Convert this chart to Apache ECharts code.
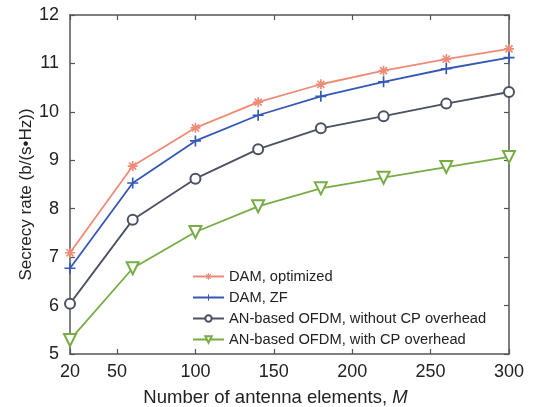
<!DOCTYPE html>
<html>
<head>
<meta charset="utf-8">
<title>Secrecy rate</title>
<script src="https://cdn.jsdelivr.net/npm/echarts@6/dist/echarts.min.js"></script>
<style>
  html, body { margin: 0; padding: 0; background: #fff; }
  #main_chart { width: 538px; height: 407px; }
</style>
</head>
<body>
<div id="main_chart"></div>
<script>
// 数据
var antennaNum = [20, 60, 100, 140, 180, 220, 260, 300];
var xTicks = [20, 50, 100, 150, 200, 250, 300];
var damOpt = [7.09, 8.88, 9.67, 10.20, 10.57, 10.85, 11.09, 11.30];
var damZF = [6.77, 8.53, 9.40, 9.93, 10.32, 10.62, 10.89, 11.12];
var anNoCP = [6.04, 7.77, 8.62, 9.23, 9.66, 9.91, 10.17, 10.41];
var anCP = [5.29, 6.77, 7.52, 8.05, 8.42, 8.64, 8.86, 9.07];
var names = ['DAM, optimized', 'DAM, ZF', 'AN-based OFDM, without CP overhead', 'AN-based OFDM, with CP overhead'];

// 星号和加号标记
var starPath = 'path://M-6,-1L6,-1L6,1L-6,1Z M1,-6L1,6L-1,6L-1,-6Z ' +
    'M-3.54,-4.95L4.95,3.54L3.54,4.95L-4.95,-3.54Z M4.95,-3.54L-3.54,4.95L-4.95,3.54L3.54,-4.95Z';
var plusPath = 'path://M-6,-0.9L6,-0.9L6,0.9L-6,0.9Z M0.9,-6L0.9,6L-0.9,6L-0.9,-6Z';

function pairs(arr) {
    return antennaNum.map(function (m, i) { return [m, arr[i]]; });
}

var axisColor = '#555';
var font = 'Liberation Sans, Arial, Helvetica, sans-serif';

const myChart = echarts.init(document.getElementById('main_chart'));

var option = {
    animation: false,
    textStyle: { fontFamily: font },
    grid: { left: 70, right: 29, top: 15, bottom: 53, outerBoundsMode: 'none', containLabel: false },
    legend: {
        left: 187,
        top: 264,
        orient: 'vertical',
        itemWidth: 31,
        itemHeight: 8,
        itemGap: 6,
        textStyle: { fontFamily: font, fontSize: 14.7, color: '#222' },
        data: names
    },
    xAxis: [{
        type: 'value',
        min: 20,
        max: 300,
        name: 'Number of antenna elements, {i|M}',
        nameLocation: 'middle',
        nameGap: 34,
        nameMoveOverlap: false,
        nameTextStyle: {
            fontSize: 18.5, color: '#222', padding: [0, 28, 0, 0],
            rich: { i: { fontSize: 18.5, fontStyle: 'italic', color: '#222' } }
        },
        axisLine: { lineStyle: { color: axisColor, width: 1.5 } },
        axisTick: { inside: true, length: 5, customValues: xTicks, lineStyle: { color: axisColor, width: 1.2 } },
        axisLabel: { customValues: xTicks, fontSize: 18, color: '#222', margin: 9 },
        splitLine: { show: false }
    }, {
        type: 'value',
        position: 'top',
        min: 20,
        max: 300,
        axisLine: { show: true, lineStyle: { color: axisColor, width: 1.5 } },
        axisTick: { show: true, inside: true, length: 5, customValues: xTicks, lineStyle: { color: axisColor, width: 1.2 } },
        axisLabel: { show: false },
        splitLine: { show: false }
    }],
    yAxis: [{
        type: 'value',
        min: 5,
        max: 12,
        interval: 1,
        name: 'Secrecy rate (b/(s\u2022Hz))',
        nameLocation: 'middle',
        nameGap: 35,
        nameMoveOverlap: false,
        nameTextStyle: { fontSize: 17, color: '#222', padding: [0, 20, 0, 0] },
        axisLine: { show: true, lineStyle: { color: axisColor, width: 1.5 } },
        axisTick: { show: true, inside: true, length: 5, lineStyle: { color: axisColor, width: 1.2 } },
        axisLabel: { fontSize: 18, color: '#222', margin: 11 },
        splitLine: { show: false }
    }, {
        type: 'value',
        position: 'right',
        min: 5,
        max: 12,
        interval: 1,
        axisLine: { show: true, lineStyle: { color: axisColor, width: 1.5 } },
        axisTick: { show: true, inside: true, length: 5, lineStyle: { color: axisColor, width: 1.2 } },
        axisLabel: { show: false },
        splitLine: { show: false }
    }],
    series: [{
        name: names[0],
        type: 'line',
        data: pairs(damOpt),
        symbol: starPath,
        symbolSize: 10,
        color: '#EE8B76',
        lineStyle: { width: 1.8 },
        itemStyle: { borderWidth: 0 }
    }, {
        name: names[1],
        type: 'line',
        data: pairs(damZF),
        symbol: plusPath,
        symbolSize: 11,
        color: '#3558B4',
        lineStyle: { width: 1.8 },
        itemStyle: { borderWidth: 0 }
    }, {
        name: names[2],
        type: 'line',
        data: pairs(anNoCP),
        symbol: 'emptyCircle',
        symbolSize: 10,
        color: '#4B5162',
        lineStyle: { width: 1.8 },
        itemStyle: { borderWidth: 1.8 }
    }, {
        name: names[3],
        type: 'line',
        data: pairs(anCP),
        symbol: 'emptyTriangle',
        symbolRotate: 180,
        symbolSize: 12,
        color: '#78AC45',
        lineStyle: { width: 1.8 },
        itemStyle: { borderWidth: 1.8 }
    }]
};

myChart.setOption(option);
window.onresize = function () {
    myChart.resize();
};
</script>
</body>
</html>
